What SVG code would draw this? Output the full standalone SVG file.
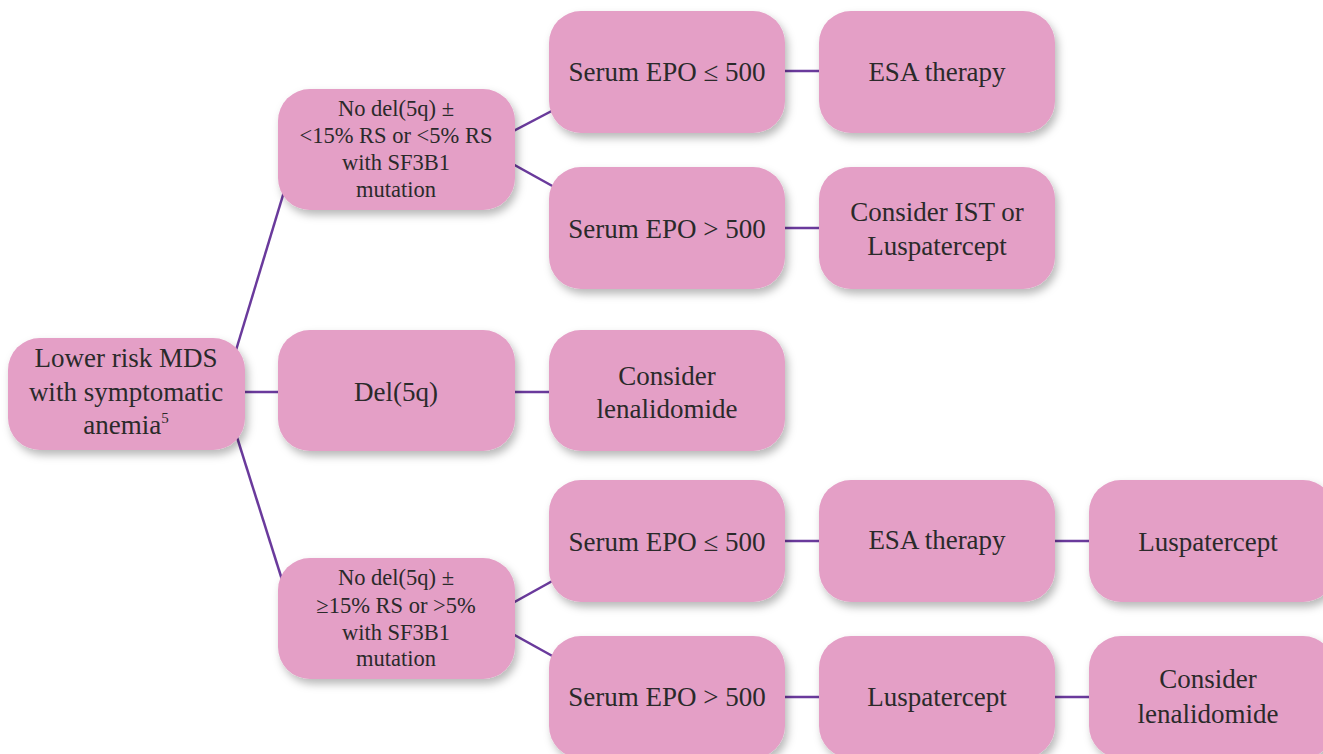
<svg xmlns="http://www.w3.org/2000/svg" width="1323" height="754" viewBox="0 0 1323 754">
<defs>
<filter id="sh" x="-10%" y="-10%" width="130%" height="135%">
<feDropShadow dx="3" dy="5" stdDeviation="4" flood-color="#000" flood-opacity="0.28"/>
</filter>
<style>
.box{fill:#e49fc6;filter:url(#sh);}
.t{fill:#2a2a2a;text-anchor:middle;font-size:27px;}
.s{font-size:22.5px;}
.c line{stroke:#6a3a9c;stroke-width:2.5;fill:none;}
</style>
</defs>
<rect width="1323" height="754" fill="#ffffff"/>
<g id="connectors" class="c">
<line x1="230" y1="370" x2="290" y2="172"/>
<line x1="230" y1="415" x2="290" y2="605"/>
<line x1="240" y1="392" x2="285" y2="392"/>
<line x1="500" y1="392" x2="560" y2="392"/>
<line x1="500" y1="138" x2="565" y2="104"/>
<line x1="500" y1="157" x2="565" y2="193"/>
<line x1="500" y1="610" x2="565" y2="574"/>
<line x1="500" y1="627" x2="565" y2="663"/>
<line x1="770" y1="71" x2="830" y2="71"/>
<line x1="770" y1="228" x2="830" y2="228"/>
<line x1="770" y1="541" x2="830" y2="541"/>
<line x1="770" y1="697" x2="830" y2="697"/>
<line x1="1040" y1="541" x2="1100" y2="541"/>
<line x1="1040" y1="697" x2="1100" y2="697"/>
</g>
<g font-family="'Liberation Serif', Tinos, 'Noto Serif', 'DejaVu Serif', 'Times New Roman', Times, serif">
<g id="root">
<rect class="box" x="8" y="338" width="237" height="112" rx="32"/>
<text class="t" x="126" y="367">Lower risk MDS</text>
<text class="t" x="126" y="401">with symptomatic</text>
<text class="t" x="126" y="434">anemia<tspan font-size="15" dy="-11">5</tspan></text>
</g>
<g id="n-nodel-low">
<rect class="box" x="278" y="89" width="237" height="121" rx="32"/>
<text class="t s" x="396" y="116">No del(5q) ±</text>
<text class="t s" x="396" y="143">&lt;15% RS or &lt;5% RS</text>
<text class="t s" x="396" y="170">with SF3B1</text>
<text class="t s" x="396" y="197">mutation</text>
</g>
<g id="n-del5q">
<rect class="box" x="278" y="330" width="237" height="121" rx="32"/>
<text class="t" x="396" y="401">Del(5q)</text>
</g>
<g id="n-nodel-high">
<rect class="box" x="278" y="558" width="237" height="121" rx="32"/>
<text class="t s" x="396" y="585">No del(5q) ±</text>
<text class="t s" x="396" y="613">≥15% RS or &gt;5%</text>
<text class="t s" x="396" y="640">with SF3B1</text>
<text class="t s" x="396" y="666">mutation</text>
</g>
<g id="n-epo-le-1">
<rect class="box" x="549" y="11" width="236" height="122" rx="32"/>
<text class="t" x="667" y="81">Serum EPO ≤ 500</text>
</g>
<g id="n-epo-gt-1">
<rect class="box" x="549" y="167" width="236" height="122" rx="32"/>
<text class="t" x="667" y="238">Serum EPO &gt; 500</text>
</g>
<g id="n-len-1">
<rect class="box" x="549" y="330" width="236" height="121" rx="32"/>
<text class="t" x="667" y="385">Consider</text>
<text class="t" x="667" y="418">lenalidomide</text>
</g>
<g id="n-epo-le-2">
<rect class="box" x="549" y="480" width="236" height="122" rx="32"/>
<text class="t" x="667" y="551">Serum EPO ≤ 500</text>
</g>
<g id="n-epo-gt-2">
<rect class="box" x="549" y="636" width="236" height="122" rx="32"/>
<text class="t" x="667" y="706">Serum EPO &gt; 500</text>
</g>
<g id="n-esa-1">
<rect class="box" x="819" y="11" width="236" height="122" rx="32"/>
<text class="t" x="937" y="81">ESA therapy</text>
</g>
<g id="n-ist">
<rect class="box" x="819" y="167" width="236" height="122" rx="32"/>
<text class="t" x="937" y="221">Consider IST or</text>
<text class="t" x="937" y="255">Luspatercept</text>
</g>
<g id="n-esa-2">
<rect class="box" x="819" y="480" width="236" height="122" rx="32"/>
<text class="t" x="937" y="549">ESA therapy</text>
</g>
<g id="n-lusp-1">
<rect class="box" x="819" y="636" width="236" height="122" rx="32"/>
<text class="t" x="937" y="706">Luspatercept</text>
</g>
<g id="n-lusp-2">
<rect class="box" x="1089" y="480" width="246" height="122" rx="32"/>
<text class="t" x="1208" y="551">Luspatercept</text>
</g>
<g id="n-len-2">
<rect class="box" x="1089" y="636" width="246" height="122" rx="32"/>
<text class="t" x="1208" y="688">Consider</text>
<text class="t" x="1208" y="723">lenalidomide</text>
</g>
</g>
</svg>
